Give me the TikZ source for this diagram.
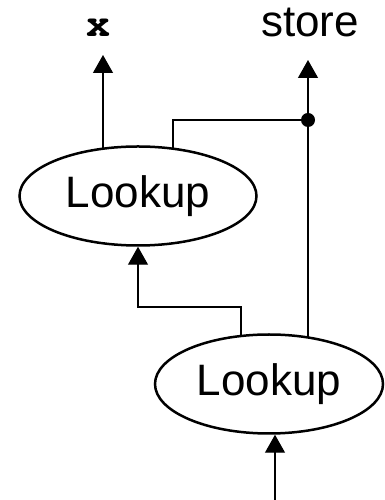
\documentclass[tikz,border=0pt]{standalone}
\usepackage{fontspec}
\setmainfont{Liberation Sans}
\newfontfamily\codefont{TeX Gyre Cursor}
\usetikzlibrary{arrows.meta,shapes.geometric,backgrounds}

\tikzset{
    lookup/.style={ellipse,draw,line width=2.5pt,fill=white,inner sep=0pt,
        minimum width=237pt,minimum height=99pt,font=\fontsize{44}{50}\selectfont},
    link/.style={line width=1.3pt},
    flow/.style={link,-{Triangle[width=20pt,length=18pt]}},
}

\begin{document}
\begin{tikzpicture}[x=1pt,y=1pt]
    \useasboundingbox (0,0) rectangle (385,500);

    \node[lookup] (top) at (138,304) {Lookup};
    \node[lookup,minimum width=228pt] (bottom) at (269,116) {Lookup};

    \coordinate (xtip) at (103,445);
    \coordinate (storetip) at (308,440);
    \coordinate (split) at (308,380);
    \coordinate (input) at (275,0);

    \node[font=\codefont\bfseries\fontsize{40}{46}\selectfont,anchor=base] (xlabel) at (98,463) {x};
    \node[font=\fontsize{44}{50}\selectfont,anchor=base] (storelabel) at (310,463) {store};

    \begin{pgfonlayer}{background}
        \draw[flow] (top.center -| xtip) -- (xtip);
        \draw[link] (173,304) |- (split);
        \draw[flow] (bottom.center -| storetip) -- (storetip);
        \draw[flow] (241,116) |- (138,193) -- (top.south);
        \draw[flow] (input) -- (bottom.south -| input);
    \end{pgfonlayer}
    \fill (split) circle (7pt);
\end{tikzpicture}
\end{document}
